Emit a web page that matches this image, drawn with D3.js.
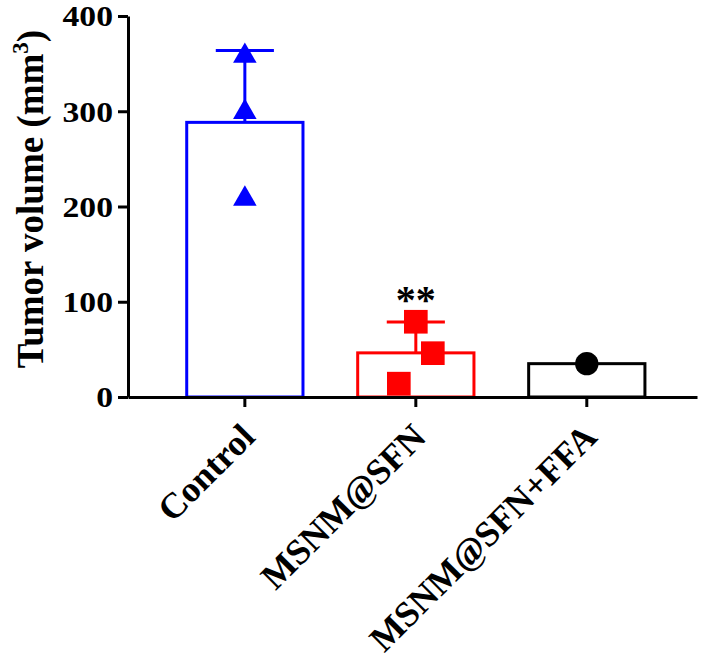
<!DOCTYPE html>
<html>
<head>
<meta charset="utf-8">
<script src="https://cdn.jsdelivr.net/npm/d3@7"></script>
<style>
  body { margin: 0; background: #fff; }
  svg { display: block; }
  text { font-family: "Liberation Serif", "Times New Roman", serif; font-weight: bold; }
</style>
</head>
<body>
<svg class="chart"></svg>
<script>
const WIDTH = 708
const HEIGHT = 668

// data
const groups = ['Control', 'MSNM@SFN', 'MSNM@SFN+FFA']
const groupColors = ['#0000ff', '#ff0000', '#000000']
const groupShapes = ['triangle', 'square', 'circle']
const controlPoints = [358, 299, 208]
const sfnPoints = [79, 46, 14]
const ffaPoints = [35]
const yTicks = [0, 100, 200, 300, 400]
const significance = ['', '**', '']

const allPoints = [controlPoints, sfnPoints, ffaPoints]

// layout
const X0 = 128, X1 = 697
const Y0 = 397, Y1 = 16
// sideways spread of the scatter points inside a group (px)
const SPREAD = [[0, 0, 0], [0, 17, -17], [0]]

const svg = d3.select('svg.chart')
  .attr('width', WIDTH)
  .attr('height', HEIGHT)

const yScale = d3.scaleLinear()
  .domain([0, 400])
  .range([Y0, Y1])

const xScale = d3.scaleBand()
  .domain(groups)
  .range([X0, X1])
  .paddingInner(0.32)
  .paddingOuter(0.324)
  .align(0.53)

const stats = groups.map((g, i) => {
  const pts = allPoints[i]
  const mean = d3.mean(pts)
  const sd = pts.length > 1 ? d3.deviation(pts) : 0
  return {group: g, mean: mean, sd: sd, color: groupColors[i], shape: groupShapes[i], sig: significance[i], idx: i}
})

// bars
svg.selectAll('rect.bar')
  .data(stats)
  .enter()
  .append('rect')
  .attr('class', 'bar')
  .attr('x', d => xScale(d.group))
  .attr('width', xScale.bandwidth())
  .attr('y', d => yScale(d.mean))
  .attr('height', d => Y0 - yScale(d.mean))
  .style('fill', '#fff')
  .style('stroke', d => d.color)
  .style('stroke-width', 3)

// error bars (mean + SD, upward only)
const errG = svg.selectAll('g.err')
  .data(stats.filter(d => d.sd > 0))
  .enter()
  .append('g')
  .attr('class', 'err')
  .style('stroke', d => d.color)
  .style('stroke-width', 3)

errG.append('line')
  .attr('x1', d => xScale(d.group) + xScale.bandwidth() / 2)
  .attr('x2', d => xScale(d.group) + xScale.bandwidth() / 2)
  .attr('y1', d => yScale(d.mean))
  .attr('y2', d => yScale(d.mean + d.sd))

errG.append('line')
  .attr('x1', d => xScale(d.group) + xScale.bandwidth() / 4)
  .attr('x2', d => xScale(d.group) + xScale.bandwidth() * 3 / 4)
  .attr('y1', d => yScale(d.mean + d.sd))
  .attr('y2', d => yScale(d.mean + d.sd))

// scatter points
const symbolTypes = {triangle: d3.symbolTriangle, square: d3.symbolSquare, circle: d3.symbolCircle}
const symbolSizes = {triangle: 240, square: 560, circle: 430}

const pointData = []
stats.forEach(s => {
  allPoints[s.idx].forEach((v, j) => {
    pointData.push({group: s.group, value: v, color: s.color, shape: s.shape, dx: SPREAD[s.idx][j]})
  })
})

svg.selectAll('path.pt')
  .data(pointData)
  .enter()
  .append('path')
  .attr('class', 'pt')
  .attr('d', d => d3.symbol().type(symbolTypes[d.shape]).size(symbolSizes[d.shape])())
  .attr('transform', d => 'translate(' + (xScale(d.group) + xScale.bandwidth() / 2 + d.dx) + ',' + yScale(d.value) + ')')
  .style('fill', d => d.color)

// significance stars
svg.selectAll('text.sig')
  .data(stats.filter(d => d.sig))
  .enter()
  .append('text')
  .attr('class', 'sig')
  .attr('x', d => xScale(d.group) + xScale.bandwidth() / 2)
  .attr('y', d => yScale(d.mean + d.sd) - 9)
  .attr('text-anchor', 'middle')
  .style('font-size', '40px')
  .text(d => d.sig)

// y axis
const yAxis = svg.append('g')
  .attr('class', 'y-axis')
  .attr('transform', 'translate(' + X0 + ',0)')
  .call(d3.axisLeft(yScale).tickValues(yTicks).tickSize(10).tickSizeOuter(0).tickPadding(5))

yAxis.select('.domain').style('stroke', '#000').style('stroke-width', 3)
yAxis.selectAll('.tick line').style('stroke', '#000').style('stroke-width', 3)
// tick numbers in the figure are a bit wider than plain Times, so stretch them
yAxis.selectAll('.tick text')
  .attr('dy', '0.34em')
  .style('font-size', '29px')
  .style('font-family', '"Liberation Serif", "Times New Roman", serif')
  .style('font-weight', 'bold')
  .attr('fill', '#000')
  .each(function(){
    const w = this.getComputedTextLength()
    d3.select(this).attr('textLength', w * 1.16).attr('lengthAdjust', 'spacingAndGlyphs')
  })

// x axis
const xAxis = svg.append('g')
  .attr('class', 'x-axis')
  .attr('transform', 'translate(0,' + Y0 + ')')
  .call(d3.axisBottom(xScale).tickSize(10).tickSizeOuter(0))

xAxis.select('.domain').style('stroke', '#000').style('stroke-width', 3)
xAxis.selectAll('.tick line').style('stroke', '#000').style('stroke-width', 3)
xAxis.selectAll('.tick text')
  .attr('y', 0)
  .attr('dy', 0)
  .attr('transform', 'translate(12,42) rotate(-45)')
  .attr('text-anchor', 'end')
  .style('font-size', '36px')
  .style('font-family', '"Liberation Serif", "Times New Roman", serif')
  .style('font-weight', 'bold')
  .attr('fill', '#000')

// y axis title
const yTitle = svg.append('text')
  .attr('transform', 'translate(43,199) rotate(-90)')
  .attr('text-anchor', 'middle')
  .style('font-size', '37px')

yTitle.append('tspan').text('Tumor volume (mm')
yTitle.append('tspan').attr('dy', -15).style('font-size', '23px').text('3')
yTitle.append('tspan').attr('dy', 15).text(')')
</script>
</body>
</html>
